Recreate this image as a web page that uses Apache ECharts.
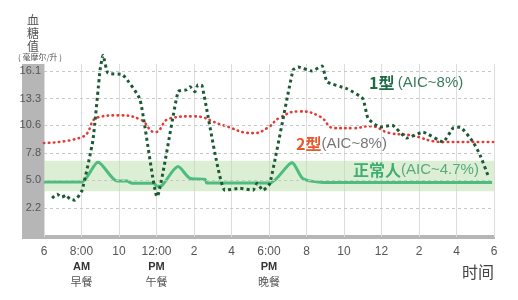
<!DOCTYPE html>
<html><head><meta charset="utf-8">
<script src="https://cdn.jsdelivr.net/npm/echarts@6/dist/echarts.min.js"></script>
<style>html,body{margin:0;padding:0;background:#fff}#c{width:518px;height:300px}</style>
</head><body><div id="c"></div>
<script>
// x: hour of day (6 = 6 AM ... 30 = 6 AM next day); y: mmol/L
const xTickValues = [6,8,10,12,14,16,18,20,22,24,26,28,30];
const xTickLabels = ['6','8:00','10','12:00','2','4','6:00','8','10','12','2','4','6'];
const mealLabels = {8:['AM','早餐'], 12:['PM','午餐'], 18:['PM','晚餐']};
const yTickValues = [2.2,5.0,7.8,10.6,13.3,16.1];
const normalRange = [3.9, 7.0];

const normalData = [[6,4.85],[8.0,4.85],[8.88,6.85],[9.89,4.95],[10.42,4.95],[10.7,4.7],[11.85,4.7],[12.03,4.4],[12.3,4.5],[13.15,6.4],[13.8,5.2],[14.6,5.1],[14.68,4.75],[18.05,4.75],[19.23,6.8],[19.8,5.2],[20.9,4.8],[29.9,4.8]];
const type2Data = [[6,8.8],[8.03,9.4],[8.88,11.4],[9.95,11.6],[11.12,11.2],[11.92,9.9],[12.72,11.3],[13.95,11.5],[15.55,10.6],[17.15,9.8],[17.9,10.3],[18.6,11.4],[19.65,12.0],[20.7,11.5],[21.5,10.3],[22.5,10.3],[23.4,10.5],[24.45,9.8],[25.5,9.6],[27.3,8.9],[29.95,8.9]];
const type1Data = [[6.43,3.2],[6.7,3.6],[6.96,3.3],[7.17,3.5],[7.39,3.1],[7.65,3.0],[8.03,4.0],[8.61,9.1],[8.99,16.2],[9.15,17.7],[9.41,15.9],[10.21,15.7],[11.12,13.2],[12.03,3.35],[13.15,14.0],[13.63,14.2],[13.79,14.5],[14.05,14.0],[14.21,14.7],[14.43,14.6],[15.65,4.0],[16.45,4.2],[17.15,4.0],[17.36,4.7],[17.68,4.0],[18.05,4.7],[19.28,16.2],[19.55,16.5],[20.29,16.1],[20.83,16.6],[21.1,15.0],[22.16,14.3],[23.0,13.3],[23.28,11.3],[23.92,10.4],[24.56,10.6],[25.36,9.3],[26.21,9.9],[27.28,8.9],[27.81,10.3],[28.19,10.4],[28.88,8.9],[29.25,7.6],[29.68,5.5]];

const chart = echarts.init(document.getElementById('c'));
const ff = '"Liberation Sans", Arial, "Noto Sans CJK SC", sans-serif';
chart.setOption({
  animation: false,
  textStyle: {fontFamily: ff},
  grid: {left: 44, right: 24, top: 64, bottom: 63, containLabel: false},
  xAxis: {
    type: 'value', min: 6, max: 30, interval: 2,
    axisLine: {show: false},
    axisTick: {show: false},
    splitLine: {show: true, lineStyle: {color: '#dcdcdc', width: 1}},
    axisLabel: {
      margin: 7, color: '#555', fontSize: 12, lineHeight: 15,
      formatter: function (v) {
        const i = xTickValues.indexOf(v);
        if (i < 0) return '';
        let s = '{t|' + xTickLabels[i] + '}';
        if (mealLabels[v]) s += '\n{a|' + mealLabels[v][0] + '}\n{m|' + mealLabels[v][1] + '}';
        return s;
      },
      rich: {
        t: {color: '#555', fontSize: 12, lineHeight: 15, fontFamily: ff},
        a: {color: '#333', fontSize: 11, fontWeight: 'bold', lineHeight: 15, fontFamily: ff},
        m: {color: '#555', fontSize: 11, lineHeight: 15, fontFamily: '"Noto Sans CJK SC", sans-serif'}
      }
    }
  },
  yAxis: {
    type: 'value', min: -0.74, max: 16.81,
    axisLine: {show: false}, axisTick: {show: false},
    axisLabel: {show: false}, splitLine: {show: false}
  },
  graphic: [
    {type: 'rect', shape: {x: 22, y: 64, width: 22, height: 175}, style: {fill: '#b6b6b6'}, z: 0},
    {type: 'rect', shape: {x: 22, y: 235, width: 473, height: 4}, style: {fill: '#b6b6b6'}, z: 0},
    {type: 'text', style: {x: 33, y: 14, text: '血', fill: '#555', font: '12px "Noto Sans CJK SC"', align: 'center', verticalAlign: 'top'}},
    {type: 'text', style: {x: 33, y: 27, text: '糖', fill: '#555', font: '12px "Noto Sans CJK SC"', align: 'center', verticalAlign: 'top'}},
    {type: 'text', style: {x: 33, y: 40, text: '值', fill: '#555', font: '12px "Noto Sans CJK SC"', align: 'center', verticalAlign: 'top'}},
    {type: 'text', style: {x: 40, y: 57, text: '( 毫摩尔/升 )', fill: '#555', font: '8px "Noto Sans CJK SC"', align: 'center', verticalAlign: 'middle'}},
    {type: 'text', left: 462, top: 264, style: {text: '时间', fill: '#444', font: '16px "Noto Sans CJK SC"'}},
    {type: 'text', left: 369, top: 75, z: 10, style: {rich: {
      b: {fill: '#1f6b45', font: 'bold 16px "Noto Sans CJK SC"'},
      p: {fill: '#3a7a5a', font: '15px "Liberation Sans", Arial'}
    }, text: '{b|1型} {p|(AIC~8%)}'}},
    {type: 'text', left: 296, top: 136, z: 10, style: {rich: {
      b: {fill: '#e8582c', font: 'bold 16px "Noto Sans CJK SC"'},
      p: {fill: '#777', font: '15px "Liberation Sans", Arial'}
    }, text: '{b|2型}{p|(AIC~8%)}'}},
    {type: 'text', left: 353, top: 162, z: 10, style: {rich: {
      b: {fill: '#3fae6e', font: 'bold 16px "Noto Sans CJK SC"'},
      p: {fill: '#5aaa80', font: '15px "Liberation Sans", Arial'}
    }, text: '{b|正常人}{p|(AIC~4.7%)}'}}
  ],
  series: [
    {
      type: 'line', data: [], silent: true,
      markLine: {
        silent: true, symbol: 'none',
        lineStyle: {color: '#c8c8c8', type: [3, 3], width: 1},
        label: {position: 'start', distance: 3, color: '#555', fontSize: 11, fontFamily: ff,
          formatter: p => p.value.toFixed(1)},
        data: yTickValues.map(v => ({yAxis: v}))
      },
      markArea: {
        silent: true,
        itemStyle: {color: 'rgba(186,222,170,0.5)'},
        data: [[{yAxis: normalRange[0]}, {yAxis: normalRange[1]}]]
      },
      z: 1
    },
    {
      type: 'line', data: normalData, smooth: 0.25, symbol: 'none',
      lineStyle: {color: '#4dbd7e', width: 3}, z: 3
    },
    {
      type: 'line', data: type2Data, smooth: 0.5, symbol: 'none',
      lineStyle: {color: '#e33b36', width: 2.6, type: [0.5, 4.5], cap: 'round'}, z: 4
    },
    {
      type: 'line', data: type1Data, smooth: 0.15, symbol: 'none', clip: false,
      lineStyle: {color: '#1b5a36', width: 3, type: [3, 3.2]}, z: 5
    }
  ]
});
</script>
</body></html>
